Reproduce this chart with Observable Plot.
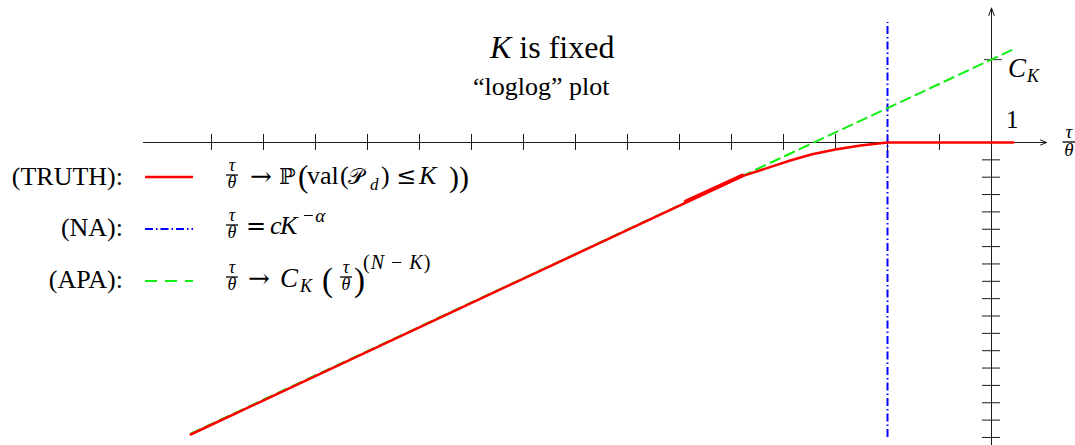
<!DOCTYPE html>
<html><head><meta charset="utf-8">
<script src="https://cdn.jsdelivr.net/npm/d3@7"></script>
<script src="https://cdn.jsdelivr.net/npm/@observablehq/plot@0.6"></script>
<style>body{margin:0;background:#fff} svg{display:block}</style>
</head><body><div id="chart"></div>
<script>
// ---- data (log-log units: x = log(tau/theta), y = log value) ----
const xTicks = [-15,-14,-13,-12,-11,-10,-9,-8,-7,-6,-5,-4,-3,-2,-1];
const yTicks = [-1,-2,-3,-4,-5,-6,-7,-8,-9,-10,-11,-12,-13,-14,-15,-16,-17];
const truthX = [-15.40, -4.79, -3.87, -3.45, -3.00, -2.52, -2.00, 0.42];
const truthY = [-16.83, -1.94, -1.04, -0.68, -0.40, -0.17, 0.00, 0.00];
const truthBoldX = [-5.88, -4.79];
const truthBoldY = [-3.40, -1.90];
const apaX = [-15.40, 0.42];
const apaY = [-16.78, 5.37];
const naX = -2;
const naY = [-17.0, 6.92];
const CK = 4.78;
const xAxisRange = [-16.31, 1.06];
const yAxisRange = [-17.5, 7.75];

const W = 1075, H = 445;
const kx = 52, ky = 17.35, ox = 991, oy = 142;
const xDom = [-ox / kx, (W - ox) / kx];
const yDom = [(oy - H) / ky, oy / ky];

const truth = truthX.map((x, i) => ({x, y: truthY[i]}));
const bold = truthBoldX.map((x, i) => ({x, y: truthBoldY[i]}));
const apa = apaX.map((x, i) => ({x, y: apaY[i]}));

const tkx = 8 / ky, tky = 9 / kx;
const axisColor = "#1a1a1a";
const SERIF = "'Liberation Serif', 'DejaVu Serif', serif";
const DSERIF = "'DejaVu Serif', serif";

const plot = Plot.plot({
  width: W, height: H, margin: 0,
  x: {domain: xDom, axis: null},
  y: {domain: yDom, axis: null},
  style: {background: "#fff", fontFamily: SERIF},
  marks: [
    Plot.arrow([0], {x1: () => xAxisRange[0], x2: () => xAxisRange[1], y1: () => 0, y2: () => 0,
      stroke: axisColor, strokeWidth: 1, headLength: 10, headAngle: 45}),
    Plot.arrow([0], {x1: () => 0, x2: () => 0, y1: () => yAxisRange[0], y2: () => yAxisRange[1],
      stroke: axisColor, strokeWidth: 1, headLength: 12, headAngle: 40}),
    Plot.ruleX(xTicks, {x: d => d, y1: -tkx, y2: tkx, stroke: axisColor, strokeWidth: 1}),
    Plot.ruleY(yTicks, {y: d => d, x1: -tky, x2: tky, stroke: axisColor, strokeWidth: 1}),
    Plot.ruleY([CK], {y: d => d, x1: -7 / kx, x2: 11 / kx, stroke: "#555", strokeWidth: 1.3}),
    Plot.ruleX([naX], {x: d => d, y1: naY[0], y2: naY[1], stroke: "#0000ff", strokeWidth: 2,
      strokeDasharray: "8,3,1.5,3"}),
    Plot.line(apa, {x: "x", y: "y", stroke: "#11ee11", strokeWidth: 2, strokeDasharray: "10,6"}),
    Plot.line(truth, {x: "x", y: "y", stroke: "#ff0000", strokeWidth: 2.5}),
    Plot.line(bold, {x: "x", y: "y", stroke: "#ff0000", strokeWidth: 4})
  ]
});
document.getElementById("chart").appendChild(plot);

// ---- annotations ----
const svg = d3.select(plot);
const g = svg.append("g").attr("text-anchor", "start").attr("fill", "#000");
function txt(x, y, size, s, opts = {}) {
  const t = g.append("text").attr("x", x).attr("y", y)
    .style("font-size", size + "px")
    .style("font-family", opts.family || SERIF)
    .attr("text-anchor", opts.anchor || "start")
    .text(s);
  if (opts.italic) t.style("font-style", "italic");
  if (opts.ls) t.style("letter-spacing", opts.ls + "px");
  return t;
}
function frac(cx, barY, size, num, den, bw) {
  const t = g.append("text").attr("text-anchor", "middle")
    .style("font-size", size + "px").style("font-family", SERIF).style("font-style", "italic");
  t.append("tspan").attr("x", cx).attr("y", barY - size * 0.2).text(num);
  t.append("tspan").attr("x", cx).attr("y", barY + size * 0.74).text(den);
  g.append("line").attr("x1", cx - bw / 2).attr("x2", cx + bw / 2)
    .attr("y1", barY).attr("y2", barY).attr("stroke", "#000").attr("stroke-width", 1.3);
}

// title
const t1 = txt(490, 58, 32, "");
t1.append("tspan").style("font-style", "italic").text("K");
t1.append("tspan").text(" is fixed");
txt(473, 95, 26, "\u201cloglog\u201d plot");

// axis labels
txt(1006, 128, 25, "1");
txt(1008, 77, 27, "C", {italic: true});
txt(1027, 82, 18, "K", {italic: true});
frac(1069, 142, 19, "\u03c4", "\u03b8", 13);

// legend
const legendNames = ["(TRUTH):", "(NA):", "(APA):"];
const legendY = [185, 236, 288];
const sampleY = [177, 229, 281];
legendNames.forEach((n, i) => txt(123, legendY[i], 26, n, {anchor: "end"}));
g.append("line").attr("x1", 145).attr("x2", 193).attr("y1", sampleY[0]).attr("y2", sampleY[0])
  .attr("stroke", "#ff0000").attr("stroke-width", 2.5);
g.append("line").attr("x1", 145).attr("x2", 193).attr("y1", sampleY[1]).attr("y2", sampleY[1])
  .attr("stroke", "#0000ff").attr("stroke-width", 2).attr("stroke-dasharray", "8,3,1.5,3");
g.append("line").attr("x1", 145).attr("x2", 193).attr("y1", sampleY[2]).attr("y2", sampleY[2])
  .attr("stroke", "#11ee11").attr("stroke-width", 2).attr("stroke-dasharray", "12,8");

// row 1 : tau/theta -> P(val(P_d) <= K))
frac(232, 175, 18, "\u03c4", "\u03b8", 12);
txt(250, 185, 26, "\u2192", {family: DSERIF});
txt(279, 184, 22, "\u2119", {family: DSERIF});
txt(298, 187, 31, "(");
txt(307, 184, 26, "val");
txt(340, 184, 26, "(");
txt(348, 184, 22, "\ud835\udcab", {family: DSERIF});
txt(370, 190, 17, "d", {italic: true});
txt(381, 184, 26, ")");
txt(396, 184, 24, "\u2264", {family: DSERIF});
txt(419, 184, 26, "K", {italic: true});
txt(449, 187, 30, "))");

// row 2 : tau/theta = c K^{-alpha}
frac(232, 225, 18, "\u03c4", "\u03b8", 12);
txt(246, 234, 24, "=", {family: DSERIF});
txt(270, 234, 26, "c", {italic: true});
txt(280, 234, 26, "K", {italic: true});
const sup2 = txt(303, 222, 19, "\u2212", {ls: 1.5});
sup2.append("tspan").style("font-style", "italic").text("\u03b1");

// row 3 : tau/theta -> C_K (tau/theta)^{(N-K)}
frac(232, 277, 18, "\u03c4", "\u03b8", 12);
txt(248, 287, 26, "\u2192", {family: DSERIF});
txt(280, 287, 27, "C", {italic: true});
txt(300, 292, 18, "K", {italic: true});
txt(322, 291, 33, "(");
frac(346, 277, 18, "\u03c4", "\u03b8", 12);
txt(354, 291, 33, ")");
const sup3 = txt(363, 269, 20, "(", {ls: 1});
sup3.append("tspan").style("font-style", "italic").text("N");
sup3.append("tspan").text(" \u2212 ");
sup3.append("tspan").style("font-style", "italic").text("K");
sup3.append("tspan").text(")");
</script>
</body></html>
